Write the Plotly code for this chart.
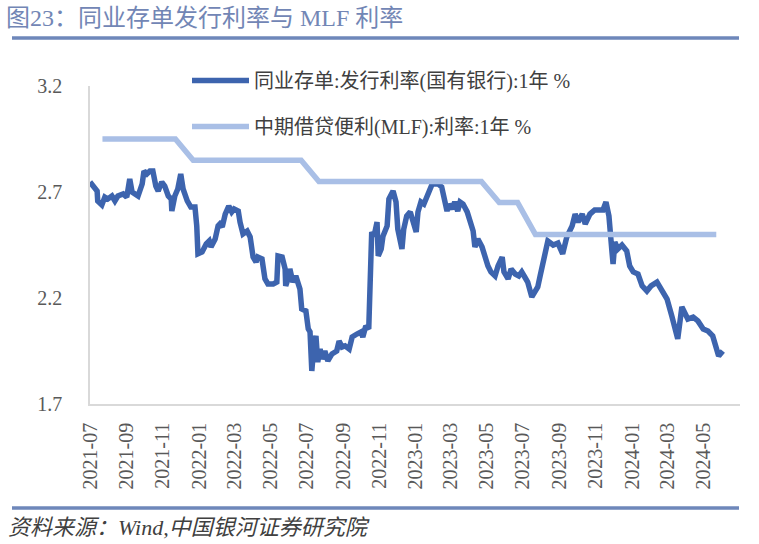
import plotly.graph_objects as go

# 同业存单:发行利率(国有银行):1年
cd_dates = [
    "2021-07-01", "2021-07-06", "2021-07-13", "2021-07-14", "2021-07-21", "2021-07-26", "2021-07-31",
    "2021-08-07", "2021-08-12", "2021-08-17", "2021-08-26", "2021-09-01", "2021-09-06", "2021-09-10",
    "2021-09-15", "2021-09-20", "2021-09-27", "2021-09-30", "2021-10-05", "2021-10-10", "2021-10-15",
    "2021-10-20", "2021-10-24", "2021-10-30", "2021-11-04", "2021-11-10", "2021-11-15", "2021-11-16",
    "2021-11-21", "2021-11-26", "2021-12-01", "2021-12-05", "2021-12-12", "2021-12-18", "2021-12-25",
    "2021-12-28", "2021-12-30", "2022-01-06", "2022-01-13", "2022-01-18", "2022-01-21", "2022-01-28",
    "2022-02-02", "2022-02-05", "2022-02-09", "2022-02-14", "2022-02-20", "2022-02-25", "2022-03-01",
    "2022-03-08", "2022-03-11", "2022-03-16", "2022-03-23", "2022-03-28", "2022-04-02", "2022-04-07",
    "2022-04-10", "2022-04-17", "2022-04-22", "2022-04-27", "2022-05-06", "2022-05-12", "2022-05-14",
    "2022-05-21", "2022-05-26", "2022-05-27", "2022-05-31", "2022-06-03", "2022-06-08", "2022-06-13",
    "2022-06-20", "2022-06-23", "2022-06-30", "2022-07-04", "2022-07-07", "2022-07-10", "2022-07-14",
    "2022-07-17", "2022-07-20", "2022-07-24", "2022-07-27", "2022-08-01", "2022-08-06", "2022-08-13",
    "2022-08-21", "2022-08-25", "2022-08-30", "2022-09-04", "2022-09-11", "2022-09-16", "2022-09-24",
    "2022-10-01", "2022-10-04", "2022-10-09", "2022-10-14", "2022-10-16", "2022-10-19", "2022-10-23",
    "2022-10-28", "2022-10-30", "2022-11-04", "2022-11-07", "2022-11-14", "2022-11-17", "2022-11-22",
    "2022-11-24", "2022-11-29", "2022-12-02", "2022-12-09", "2022-12-12", "2022-12-17", "2022-12-23",
    "2022-12-28", "2023-01-02", "2023-01-05", "2023-01-10", "2023-01-15", "2023-01-20", "2023-01-25",
    "2023-01-29", "2023-02-03", "2023-02-08", "2023-02-14", "2023-02-18", "2023-02-23", "2023-02-26",
    "2023-03-03", "2023-03-08", "2023-03-13", "2023-03-17", "2023-03-22", "2023-03-29", "2023-04-03",
    "2023-04-08", "2023-04-11", "2023-04-16", "2023-04-23", "2023-04-28", "2023-05-03", "2023-05-08",
    "2023-05-15", "2023-05-20", "2023-05-27", "2023-05-30", "2023-06-06", "2023-06-11", "2023-06-18",
    "2023-06-24", "2023-06-29", "2023-07-04", "2023-07-09", "2023-07-16", "2023-07-21", "2023-07-26",
    "2023-07-30", "2023-08-04", "2023-08-12", "2023-08-21", "2023-08-29", "2023-09-06", "2023-09-13",
    "2023-09-22", "2023-09-27", "2023-10-02", "2023-10-09", "2023-10-14", "2023-10-22", "2023-10-30",
    "2023-11-13", "2023-11-18", "2023-11-23", "2023-11-28", "2023-11-30", "2023-12-03", "2023-12-08",
    "2023-12-15", "2023-12-23", "2023-12-28", "2024-01-03", "2024-01-11", "2024-01-18", "2024-01-26",
    "2024-02-02", "2024-02-12", "2024-02-20", "2024-02-29", "2024-03-08", "2024-03-13", "2024-03-18",
    "2024-03-25", "2024-03-30", "2024-04-04", "2024-04-13", "2024-04-21", "2024-04-30", "2024-05-08",
    "2024-05-16", "2024-05-23", "2024-05-26", "2024-06-02",
]
cd_rates = [
    2.747, 2.728, 2.705, 2.658, 2.639, 2.676, 2.667,
    2.681, 2.658, 2.681, 2.691, 2.676, 2.761, 2.700,
    2.691, 2.681, 2.738, 2.799, 2.785, 2.799, 2.799,
    2.728, 2.705, 2.747, 2.728, 2.681, 2.667, 2.610,
    2.681, 2.714, 2.785, 2.714, 2.658, 2.629, 2.629,
    2.540, 2.408, 2.417, 2.455, 2.469, 2.441, 2.478,
    2.540, 2.549, 2.535, 2.596, 2.634, 2.606, 2.620,
    2.610, 2.558, 2.502, 2.516, 2.488, 2.393, 2.370,
    2.393, 2.384, 2.290, 2.266, 2.266, 2.275, 2.398,
    2.393, 2.337, 2.257, 2.290, 2.337, 2.275, 2.304,
    2.242, 2.148, 2.139, 2.054, 2.040, 1.856, 1.992,
    2.021, 1.898, 1.959, 1.912, 1.950, 1.903, 1.936,
    1.950, 1.997, 1.969, 1.974, 1.959, 2.016, 2.030,
    2.040, 2.016, 2.068, 2.054, 2.275, 2.511, 2.492,
    2.558, 2.398, 2.431, 2.492, 2.540, 2.667, 2.700,
    2.705, 2.653, 2.525, 2.431, 2.525, 2.587, 2.606,
    2.558, 2.511, 2.606, 2.653, 2.643, 2.681, 2.714,
    2.738, 2.738, 2.738, 2.724, 2.681, 2.610, 2.643,
    2.620, 2.653, 2.610, 2.653, 2.643, 2.606, 2.563,
    2.516, 2.441, 2.478, 2.441, 2.384, 2.351, 2.323,
    2.304, 2.351, 2.393, 2.323, 2.290, 2.337, 2.313,
    2.304, 2.323, 2.299, 2.275, 2.205, 2.228, 2.252,
    2.304, 2.360, 2.469, 2.450, 2.459, 2.408, 2.488,
    2.540, 2.596, 2.558, 2.596, 2.549, 2.596, 2.615,
    2.615, 2.653, 2.587, 2.422, 2.360, 2.464, 2.431,
    2.450, 2.422, 2.351, 2.323, 2.313, 2.257, 2.233,
    2.257, 2.275, 2.233, 2.195, 2.115, 2.054, 2.007,
    2.158, 2.134, 2.101, 2.110, 2.092, 2.054, 2.044,
    2.021, 1.959, 1.926, 1.950,
]

# 中期借贷便利(MLF):利率:1年 (monthly)
mlf_dates = [
    "2021-07-22", "2021-08-22", "2021-09-22", "2021-10-22", "2021-11-22",
    "2021-12-22", "2022-01-22", "2022-02-22", "2022-03-22", "2022-04-22", "2022-05-22", "2022-06-22",
    "2022-07-22", "2022-08-22", "2022-09-22", "2022-10-22", "2022-11-22", "2022-12-22",
    "2023-01-22", "2023-02-22", "2023-03-22", "2023-04-22",
    "2023-05-22", "2023-06-22",
    "2023-07-22", "2023-08-22", "2023-09-22", "2023-10-22", "2023-11-22", "2023-12-22",
    "2024-01-22", "2024-02-22", "2024-03-22", "2024-04-22", "2024-05-22",
]
mlf_rates = [
    2.95, 2.95, 2.95, 2.95, 2.95,
    2.85, 2.85, 2.85, 2.85, 2.85, 2.85, 2.85,
    2.75, 2.75, 2.75, 2.75, 2.75, 2.75,
    2.75, 2.75, 2.75, 2.75,
    2.65, 2.65,
    2.50, 2.50, 2.50, 2.50, 2.50, 2.50,
    2.50, 2.50, 2.50, 2.50, 2.50,
]

series_names = ["同业存单:发行利率(国有银行):1年 %", "中期借贷便利(MLF):利率:1年 %"]
x_tick_vals = [
    "2021-07-01", "2021-09-01", "2021-11-01", "2022-01-01", "2022-03-01", "2022-05-01",
    "2022-07-01", "2022-09-01", "2022-11-01", "2023-01-01", "2023-03-01", "2023-05-01",
    "2023-07-01", "2023-09-01", "2023-11-01", "2024-01-01", "2024-03-01", "2024-05-01",
]
x_tick_text = [v[:7] for v in x_tick_vals]
y_ticks = [1.7, 2.2, 2.7, 3.2]

FONT = "Liberation Serif, Noto Sans CJK SC, serif"
W, H = 759, 544
ML, MR, MT, MB = 90, 19, 86, 140

fig = go.Figure()
fig.add_trace(go.Scatter(
    x=cd_dates, y=cd_rates, mode="lines", name=series_names[0], legendgroup="a",
    line=dict(color="#3D64AE", width=5.5),
))
fig.add_trace(go.Scatter(
    x=mlf_dates, y=mlf_rates, mode="lines", name=series_names[1], legendgroup="b",
    line=dict(color="#A9BFE6", width=5.5),
))

pw = W - ML - MR
ph = H - MT - MB
def px(xp):
    return (xp - ML) / pw
def py(yp):
    return (H - MB - yp) / ph

fig.update_layout(
    width=W, height=H,
    margin=dict(l=ML, r=MR, t=MT, b=MB, autoexpand=False),
    paper_bgcolor="white", plot_bgcolor="white",
    font=dict(family=FONT, color="#404040"),
    showlegend=True,
    legend=dict(
        x=187 / W, xref="container", y=1 - 61 / H, yref="container",
        xanchor="left", yanchor="top",
        font=dict(size=20, family=FONT, color="#404040"),
        bgcolor="rgba(0,0,0,0)", traceorder="grouped", tracegroupgap=17,
        itemwidth=57,
    ),
    xaxis=dict(
        type="date", range=["2021-07-01", "2024-07-01"],
        tickvals=x_tick_vals, ticktext=x_tick_text, tickangle=-90,
        tickfont=dict(size=20, family=FONT, color="#595959"),
        showgrid=False, showline=True, linecolor="#D9D9D9", linewidth=1.5,
        ticks="", zeroline=False, ticklabelstandoff=9,
    ),
    yaxis=dict(
        range=[1.7, 3.2], tickvals=y_ticks, ticktext=[f"{v:.1f}" for v in y_ticks],
        tickfont=dict(size=20, family=FONT, color="#595959"),
        showgrid=False, showline=True, linecolor="#D9D9D9", linewidth=1.5,
        ticks="", zeroline=False, ticklabelstandoff=22,
    ),
    title=dict(
        text="图23：同业存单发行利率与 MLF 利率",
        x=6 / W, xref="container", xanchor="left",
        y=1 - 18 / H, yref="container", yanchor="middle",
        font=dict(size=24, family=FONT, color="#7286B5"),
    ),
)

fig.add_shape(type="line", xref="paper", yref="paper",
              x0=px(12), x1=px(739), y0=py(38), y1=py(38),
              line=dict(color="#6E87BA", width=3.5))
fig.add_shape(type="line", xref="paper", yref="paper",
              x0=px(12), x1=px(739), y0=py(508), y1=py(508),
              line=dict(color="#6E87BA", width=3.5))
fig.add_annotation(
    text="<i>资料来源：Wind,中国银河证券研究院</i>", xref="paper", yref="paper",
    x=px(6), y=py(527), xanchor="left", yanchor="middle", showarrow=False,
    font=dict(size=22, family=FONT, color="#404040"),
)

fig.write_html("out.html", config={"displayModeBar": False},
               post_script="document.body.style.margin='0';")
